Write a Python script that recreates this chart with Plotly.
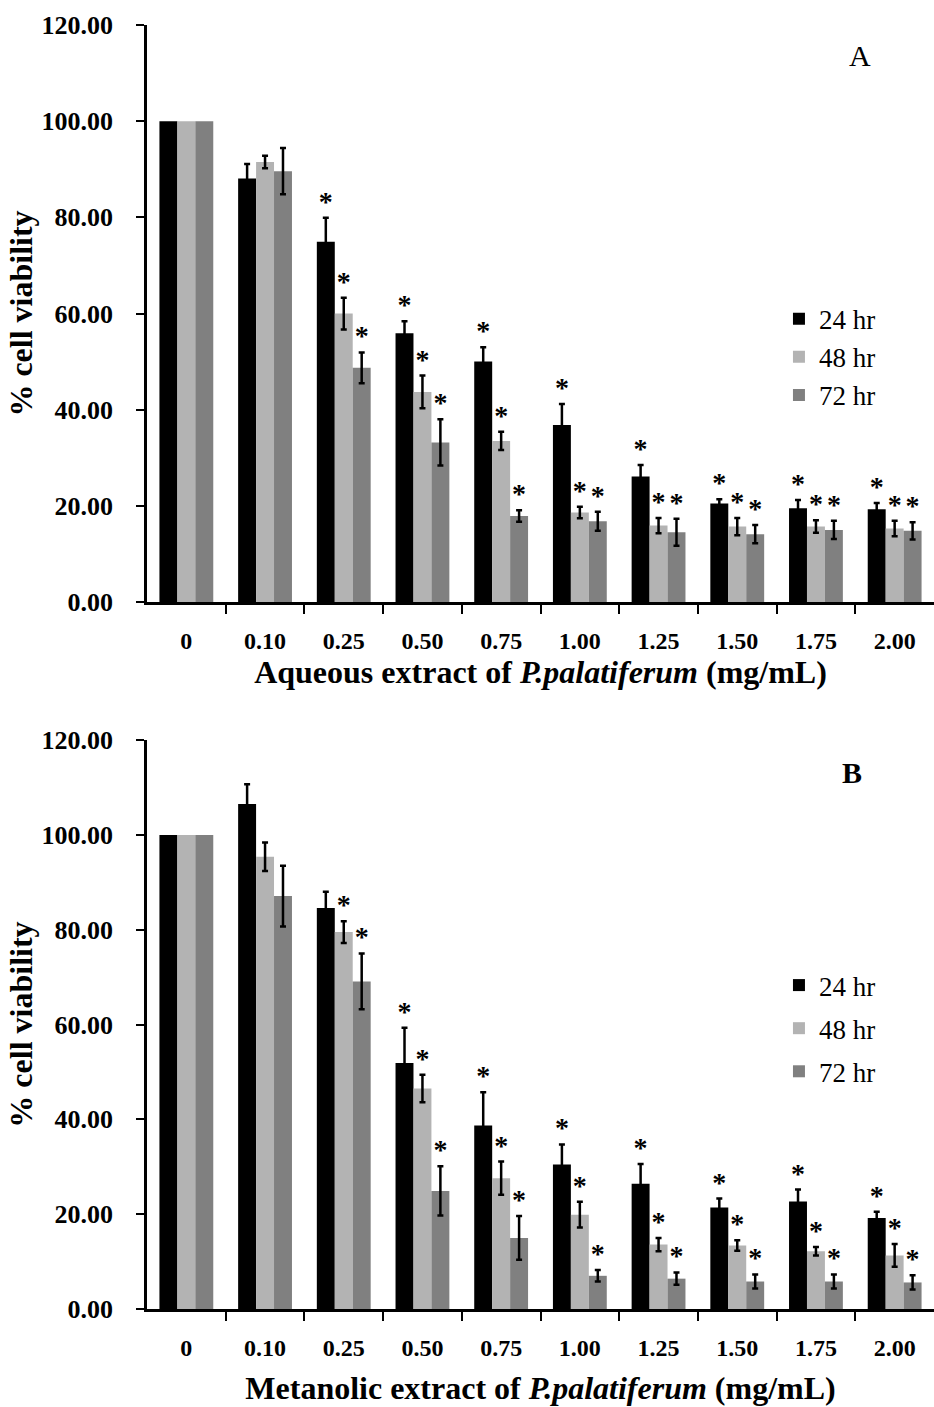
import plotly.graph_objects as go
import numpy as np

conc_labels = ["0", "0.10", "0.25", "0.50", "0.75", "1.00", "1.25", "1.50", "1.75", "2.00"]
series_names = ["24 hr", "48 hr", "72 hr"]

# Panel A: aqueous extract
a24 = [100, 88.1, 74.9, 55.9, 50.0, 36.8, 26.1, 20.5, 19.5, 19.3]
a24_err = [None, 3.0, 5.0, 2.5, 3.0, 4.4, 2.4, 0.9, 1.7, 1.3]
a48 = [100, 91.5, 60.0, 43.7, 33.5, 18.6, 15.9, 15.7, 15.7, 15.3]
a48_err = [None, 1.3, 3.3, 3.4, 1.9, 1.2, 1.6, 1.8, 1.3, 1.6]
a72 = [100, 89.6, 48.7, 33.2, 17.9, 16.8, 14.5, 14.1, 15.0, 14.8]
a72_err = [None, 4.8, 3.2, 4.8, 1.2, 2.0, 2.8, 1.9, 1.9, 1.8]
a24_sig = [0, 0, 1, 1, 1, 1, 1, 1, 1, 1]
a48_sig = [0, 0, 1, 1, 1, 1, 1, 1, 1, 1]
a72_sig = [0, 0, 1, 1, 1, 1, 1, 1, 1, 1]

# Panel B: methanolic extract
b24 = [100, 106.5, 84.6, 51.9, 38.7, 30.5, 26.4, 21.4, 22.7, 19.2]
b24_err = [None, 4.2, 3.4, 7.4, 7.0, 4.2, 4.2, 1.9, 2.5, 1.3]
b48 = [100, 95.4, 79.5, 46.5, 27.6, 19.9, 13.6, 13.4, 12.2, 11.3]
b48_err = [None, 3.0, 2.3, 2.9, 3.5, 2.7, 1.4, 1.1, 0.9, 2.4]
b72 = [100, 87.1, 69.1, 24.9, 15.0, 7.0, 6.4, 5.8, 5.8, 5.6]
b72_err = [None, 6.4, 5.9, 5.2, 4.6, 1.2, 1.3, 1.5, 1.5, 1.5]
b24_sig = [0, 0, 0, 1, 1, 1, 1, 1, 1, 1]
b48_sig = [0, 0, 1, 1, 1, 1, 1, 1, 1, 1]
b72_sig = [0, 0, 1, 1, 1, 1, 1, 1, 1, 1]

colors = ["#000000", "#b3b3b3", "#808080"]
FONT = "Liberation Serif"
BARGAP = 0.316

fig = go.Figure()
xs = np.arange(len(conc_labels))
w = (1 - BARGAP) / 3

panels = [
    ("x", "y", "legend", "A", [(a24, a24_err, a24_sig), (a48, a48_err, a48_sig), (a72, a72_err, a72_sig)]),
    ("x2", "y2", "legend2", "B", [(b24, b24_err, b24_sig), (b48, b48_err, b48_sig), (b72, b72_err, b72_sig)]),
]

for xa, ya, lg, tag, data in panels:
    for s, (vals, errs, sig) in enumerate(data):
        err_arr = np.array([np.nan if e is None else e for e in errs], dtype=float)
        fig.add_trace(go.Bar(
            x=xs, y=vals, name=series_names[s], xaxis=xa, yaxis=ya, legend=lg,
            legendgroup=tag + series_names[s],
            marker=dict(color=colors[s], line=dict(width=0)),
            error_y=dict(type="data", array=err_arr, color="black", thickness=2.5, width=3, visible=True),
        ))
    for s, (vals, errs, sig) in enumerate(data):
        sx, sy = [], []
        for i in range(len(vals)):
            if sig[i]:
                sx.append(xs[i] + (s - 1) * w)
                sy.append(vals[i] + (errs[i] or 0))
        fig.add_trace(go.Scatter(
            x=sx, y=sy, mode="text", text=["*"] * len(sx), textposition="top center",
            textfont=dict(family=FONT, size=28, color="black", weight="bold"),
            xaxis=xa, yaxis=ya, showlegend=False, hoverinfo="skip",
        ))

xaxis_common = dict(
    range=[-0.5, 9.5], tickmode="array", tickvals=list(xs), ticktext=conc_labels,
    ticks="", showline=True, linecolor="black", linewidth=2.5,
    tickfont=dict(family=FONT, size=24, color="black", weight="bold"),
    ticklabelstandoff=15,
    minor=dict(tickmode="array", tickvals=[i + 0.5 for i in range(9)], ticks="outside",
               ticklen=9, tickwidth=2, tickcolor="black"),
    showgrid=False, zeroline=False, fixedrange=True,
)
yaxis_common = dict(
    range=[0, 120], tickmode="array", tickvals=[0, 20, 40, 60, 80, 100, 120],
    tickformat=".2f", ticks="outside", ticklen=8, tickwidth=2, tickcolor="black",
    showline=True, linecolor="black", linewidth=2.5,
    tickfont=dict(family=FONT, size=26, color="black", weight="bold"),
    ticklabelstandoff=18,
    showgrid=False, zeroline=False,
)
ytitle = dict(text="% cell viability", font=dict(family=FONT, size=32, color="black", weight="bold"), standoff=0)
legend_font = dict(family=FONT, size=27, color="black")
xtitle_font = dict(family=FONT, size=32, color="black", weight="bold")

fig.update_layout(
    width=934, height=1407,
    margin=dict(l=147, r=0, t=25, b=98),
    paper_bgcolor="white", plot_bgcolor="white",
    barmode="group", bargap=BARGAP, bargroupgap=0,
    xaxis=dict(**xaxis_common, anchor="y", domain=[0, 1],
               title=dict(text="Aqueous extract of <i>P.palatiferum</i> (mg/mL)",
                          font=xtitle_font, standoff=0)),
    yaxis=dict(**yaxis_common, anchor="x", domain=[0.5506, 1.0], title=ytitle),
    xaxis2=dict(**xaxis_common, anchor="y2", domain=[0, 1],
                title=dict(text="Metanolic extract of <i>P.palatiferum</i> (mg/mL)",
                           font=xtitle_font, standoff=18)),
    yaxis2=dict(**yaxis_common, anchor="x2", domain=[0, 0.4431], title=ytitle),
    legend=dict(x=0.803, y=0.790, xanchor="left", yanchor="top", bgcolor="rgba(0,0,0,0)",
                font=legend_font, tracegroupgap=0),
    legend2=dict(x=0.803, y=0.271, xanchor="left", yanchor="top", bgcolor="rgba(0,0,0,0)",
                 font=legend_font, tracegroupgap=5),
    annotations=[
        dict(text="A", x=0.906, y=0.9766, xref="paper", yref="paper", showarrow=False,
             xanchor="center", yanchor="middle",
             font=dict(family=FONT, size=30, color="black")),
        dict(text="B", x=0.896, y=0.418, xref="paper", yref="paper", showarrow=False,
             xanchor="center", yanchor="middle",
             font=dict(family=FONT, size=30, color="black", weight="bold")),
    ],
)

fig.write_html("out.html")
